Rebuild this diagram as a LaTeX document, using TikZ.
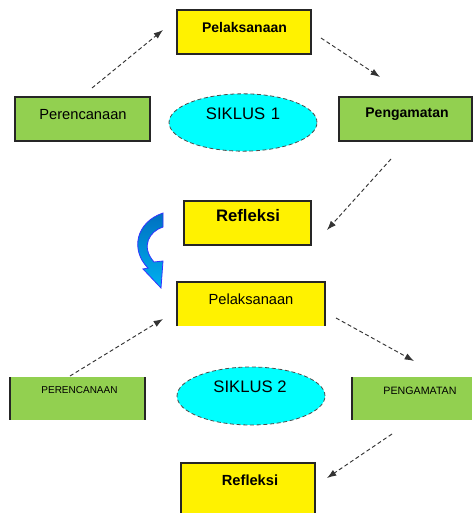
\documentclass[tikz,border=0pt]{standalone}
\usepackage{fontspec}
\setmainfont{Liberation Sans}
\usetikzlibrary{arrows.meta}
\definecolor{ygreen}{RGB}{146,208,80}
\definecolor{ycyan}{RGB}{0,255,255}
\definecolor{dblue}{RGB}{0,112,192}
\definecolor{lblue}{RGB}{0,176,240}
\tikzset{
  ybox/.style={fill=yellow},
  gbox/.style={fill=ygreen},
  edge/.style={draw=black!85, line width=1.2},
  cyc/.style={ellipse, fill=ycyan, draw=black!70, densely dashed, line width=0.6},
  flow/.style={densely dashed, line width=0.7, black!80, -{Latex[length=7,width=5]}}
}
\usetikzlibrary{shapes.geometric}
\begin{document}
\begin{tikzpicture}[x=0.75pt,y=-0.75pt]
\useasboundingbox (0,0) rectangle (472,513);
\fill[white] (0,0) rectangle (472,513);
% ---- cycle 1 ----
\path[ybox,edge] (177,10) rectangle (311,54);
\node[font=\bfseries\fontsize{10.5}{12}\selectfont] (p1) at (244.5,27) {Pelaksanaan};
\path[gbox,edge] (15,97) rectangle (150,141);
\node[font=\fontsize{11}{12}\selectfont] (r1) at (83,115) {Perencanaan};
\path[gbox,edge] (339,97) rectangle (472,141);
\node[font=\bfseries\fontsize{10.5}{12}\selectfont] (g1) at (407,114) {Pengamatan};
\path[ybox,edge] (184,201) rectangle (311,245);
\node[font=\bfseries\fontsize{12.5}{14}\selectfont] (f1) at (248,216) {Refleksi};
\node[cyc, minimum width=111, minimum height=43] (s1) at (243,122.5) {};
\node[font=\fontsize{12.5}{14}\selectfont] (s1t) at (243,114) {SIKLUS\,\,1};
% arrows cycle 1
\coordinate (a1s) at (92,88); \coordinate (a1e) at (163,30);
\coordinate (a2s) at (321,38); \coordinate (a2e) at (380,77);
\coordinate (a3s) at (391,159); \coordinate (a3e) at (327,230);
\draw[flow] (a1s) -- (a1e);
\draw[flow] (a2s) -- (a2e);
\draw[flow] (a3s) -- (a3e);
% curved blue arrow
\shade[top color=dblue, bottom color=lblue, draw=blue!80, line width=0.6]
  (163,213) -- (163,227) .. controls (150,231) and (140,246) .. (154,262)
  -- (163,261) -- (161,288) -- (143,269) -- (148,268)
  .. controls (130,250) and (136,222) .. cycle;
% ---- cycle 2 ----
\fill[yellow] (177,282) rectangle (325,326);
\draw[edge] (177,326) -- (177,282) -- (325,282) -- (325,326);
\node[font=\fontsize{11}{12}\selectfont] (p2) at (251,299) {Pelaksanaan};
\fill[ygreen] (10,377) rectangle (145,420);
\draw[edge] (10,377) -- (10,420);
\draw[edge] (145,377) -- (145,420);
\node[font=\fontsize{7.5}{9}\selectfont] (r2) at (79.5,390) {PERENCANAAN};
\fill[ygreen] (352,377) rectangle (472,420);
\draw[edge] (352,377) -- (352,420);
\node[font=\fontsize{8}{9}\selectfont] (g2) at (420,391) {PENGAMATAN};
\fill[yellow] (181,463) rectangle (315,513);
\draw[edge] (181,513) -- (181,463) -- (315,463) -- (315,513);
\node[font=\bfseries\fontsize{11}{12}\selectfont] (f2) at (250,480) {Refleksi};
\node[cyc, minimum width=111, minimum height=43.5] (s2) at (251,396) {};
\node[font=\fontsize{12.5}{14}\selectfont] (s2t) at (250,387) {SIKLUS 2};
\coordinate (b1s) at (70,376); \coordinate (b1e) at (163,319);
\coordinate (b2s) at (336,318); \coordinate (b2e) at (414,361);
\coordinate (b3s) at (392,434); \coordinate (b3e) at (327,478);
\draw[flow] (b1s) -- (b1e);
\draw[flow] (b2s) -- (b2e);
\draw[flow] (b3s) -- (b3e);
\end{tikzpicture}
\end{document}
